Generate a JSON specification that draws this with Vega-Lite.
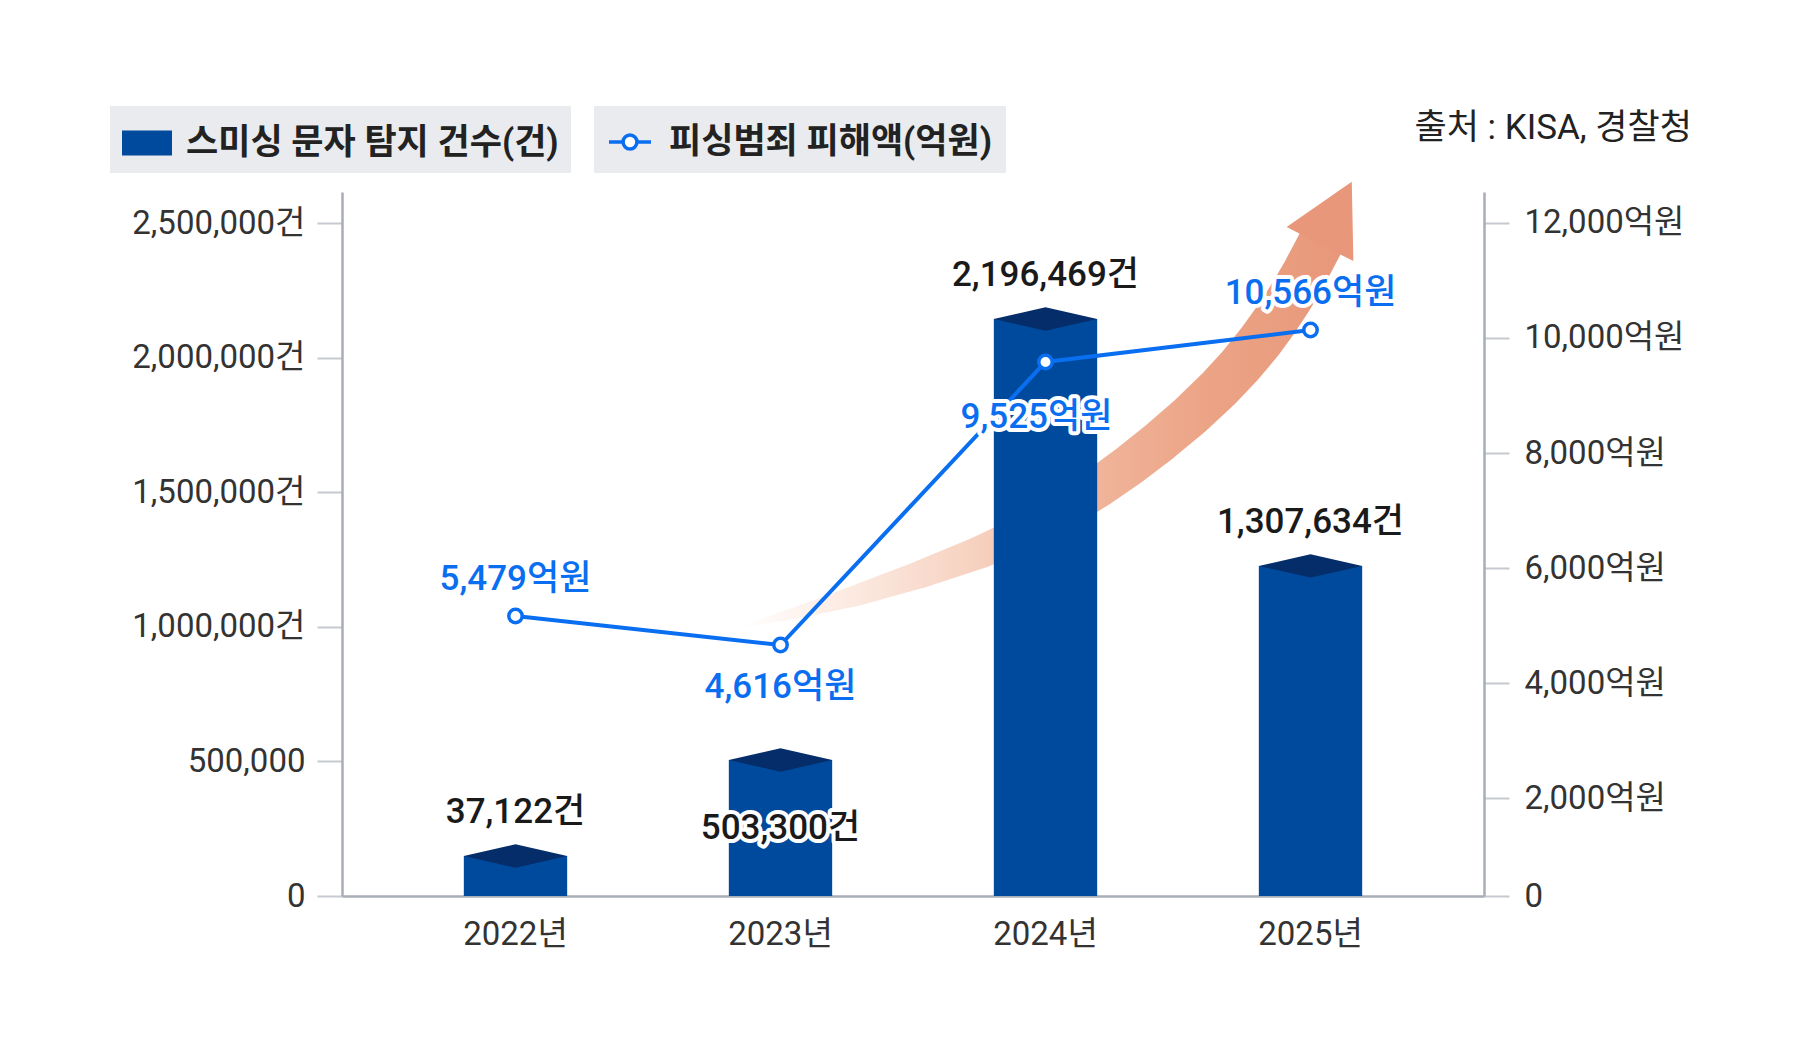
{
  "$schema": "https://vega.github.io/schema/vega-lite/v6.json",
  "width": 1142,
  "height": 704,
  "autosize": "none",
  "padding": {"left": 342, "top": 192, "right": 322, "bottom": 166},
  "background": "#ffffff",
  "title": {
    "text": "출처 : KISA, 경찰청",
    "anchor": "end",
    "frame": "bounds",
    "orient": "top",
    "fontSize": 35,
    "fontWeight": "normal",
    "color": "#222222",
    "offset": 10,
    "dy": 50,
    "dx": 8
  },
  "config": {
    "font": "Roboto, Noto Sans CJK KR",
    "view": {"stroke": null},
    "axis": {
      "grid": false,
      "labelFont": "Roboto, Noto Sans CJK KR",
      "labelFontSize": 33,
      "labelColor": "#333333",
      "domainColor": "#a9aeb6",
      "domainWidth": 2.5,
      "tickColor": "#c6c9ce",
      "tickWidth": 2,
      "tickSize": 25,
      "labelOverlap": false,
      "title": null
    },
    "legend": {
      "labelFont": "Roboto, Noto Sans CJK KR",
      "labelFontSize": 35,
      "labelFontWeight": "bold",
      "labelColor": "#222222",
      "labelLimit": 800,
      "fillColor": "#e9ebee"
    }
  },
  "layer": [
    {
      "data": {
        "values": [
          {"xu": 0.8528, "yv": 999250, "w": 0.04},
          {"xu": 1.0755, "yv": 1056090, "w": 0.27},
          {"xu": 1.3019, "yv": 1120720, "w": 0.47},
          {"xu": 1.5283, "yv": 1194280, "w": 0.6},
          {"xu": 1.7547, "yv": 1276740, "w": 0.71},
          {"xu": 1.8679, "yv": 1325780, "w": 0.75},
          {"xu": 1.9811, "yv": 1382610, "w": 0.8},
          {"xu": 2.0943, "yv": 1448360, "w": 0.84},
          {"xu": 2.2075, "yv": 1521910, "w": 0.88},
          {"xu": 2.3208, "yv": 1602150, "w": 0.91},
          {"xu": 2.434, "yv": 1689070, "w": 0.93},
          {"xu": 2.5472, "yv": 1783800, "w": 0.95},
          {"xu": 2.6604, "yv": 1889670, "w": 0.97},
          {"xu": 2.7358, "yv": 1969160, "w": 0.98},
          {"xu": 2.8113, "yv": 2059800, "w": 1.0},
          {"xu": 2.8679, "yv": 2136320, "w": 1.0},
          {"xu": 2.9245, "yv": 2221020, "w": 1.0},
          {"xu": 2.9811, "yv": 2315740, "w": 1.0},
          {"xu": 3.0377, "yv": 2421610, "w": 1.0}
        ]
      },
      "layer": [
        {
          "mark": {
            "type": "trail",
            "color": {
              "gradient": "linear",
              "x1": 0, "y1": 0, "x2": 1, "y2": 0,
              "stops": [
                {"offset": 0, "color": "#ffffff"},
                {"offset": 0.17, "color": "#fcebe3"},
                {"offset": 0.4, "color": "#f6d0be"},
                {"offset": 0.55, "color": "#f1b89f"},
                {"offset": 0.77, "color": "#eca486"},
                {"offset": 1, "color": "#e8977a"}
              ]
            }
          },
          "encoding": {
            "x": {"field": "xu", "type": "quantitative", "scale": {"domain": [-0.6528, 3.6566], "nice": false, "zero": false}, "axis": null},
            "y": {"field": "yv", "type": "quantitative", "scale": {"domain": [0, 2615156], "nice": false}, "axis": null},
            "size": {"field": "w", "type": "quantitative", "scale": {"domain": [0, 1], "range": [0, 46]}, "legend": null},
            "order": {"field": "xu"}
          }
        },
        {
          "data": {"values": [{"xu": 3.0377, "yv": 2421610}]},
          "mark": {
            "type": "point",
            "shape": "M0,-2L1.07,0L-1.07,0Z",
            "size": 4900,
            "angle": 27,
            "filled": true,
            "fill": "#e8977a",
            "strokeWidth": 0,
            "opacity": 1
          },
          "encoding": {
            "x": {"field": "xu", "type": "quantitative"},
            "y": {"field": "yv", "type": "quantitative"}
          }
        }
      ]
    },
    {
      "data": {
        "values": [
          {"year": "2022년", "count": 148600, "label": "37,122건"},
          {"year": "2023년", "count": 505200, "label": "503,300건"},
          {"year": "2024년", "count": 2143400, "label": "2,196,469건"},
          {"year": "2025년", "count": 1225900, "label": "1,307,634건"}
        ]
      },
      "encoding": {
        "x": {
          "field": "year",
          "type": "nominal",
          "sort": null,
          "scale": {"type": "band", "paddingInner": 0.61, "paddingOuter": 0.4597},
          "axis": {"orient": "bottom", "ticks": false, "labelAngle": 0, "labelPadding": 22}
        },
        "y": {
          "field": "count",
          "type": "quantitative",
          "scale": {"domain": [0, 2615156], "nice": false},
          "axis": {
            "orient": "left",
            "values": [0, 500000, 1000000, 1500000, 2000000, 2500000],
            "labelPadding": 12,
            "labelExpr": "datum.value == 0 ? '0' : (datum.value == 500000 ? '500,000' : format(datum.value, ',') + '건')"
          }
        }
      },
      "layer": [
        {
          "mark": {"type": "bar"},
          "encoding": {
            "fill": {
              "datum": "스미싱 문자 탐지 건수(건)",
              "type": "nominal",
              "scale": {"range": ["#004a9d"]},
              "legend": {
                "title": null,
                "orient": "none",
                "legendX": -232,
                "legendY": -86,
                "symbolType": "M-1,-0.5H1V0.5H-1Z",
                "symbolSize": 2500,
                "symbolStrokeWidth": 0,
                "symbolOpacity": 1,
                "labelOffset": 14,
                "padding": 12
              }
            }
          }
        },
        {
          "mark": {
            "type": "point",
            "shape": "M-1,0L0,-0.225L1,0L0,0.225Z",
            "size": 10692,
            "filled": true,
            "fill": "#052d69",
            "strokeWidth": 0,
            "opacity": 1
          }
        },
        {
          "transform": [{"filter": "datum.year != '2023년'"}],
          "mark": {"type": "text", "dy": -44, "fontSize": 35, "fontWeight": 500, "stroke": "#ffffff", "strokeWidth": 7, "strokeJoin": "round", "fill": "#ffffff"},
          "encoding": {"text": {"field": "label"}}
        },
        {
          "transform": [{"filter": "datum.year != '2023년'"}],
          "mark": {"type": "text", "dy": -44, "fontSize": 35, "fontWeight": 500, "fill": "#1a1a1a"},
          "encoding": {"text": {"field": "label"}}
        },
        {
          "transform": [{"filter": "datum.year == '2023년'"}],
          "mark": {"type": "text", "dy": 68, "fontSize": 35, "fontWeight": 500, "stroke": "#ffffff", "strokeWidth": 8, "strokeJoin": "round", "fill": "#ffffff"},
          "encoding": {"text": {"field": "label"}}
        },
        {
          "transform": [{"filter": "datum.year == '2023년'"}],
          "mark": {"type": "text", "dy": 68, "fontSize": 35, "fontWeight": 500, "fill": "#1a1a1a"},
          "encoding": {"text": {"field": "label"}}
        }
      ]
    },
    {
      "data": {
        "values": [
          {"year": "2022년", "amount": 5165, "label": "5,479억원"},
          {"year": "2023년", "amount": 4661, "label": "4,616억원"},
          {"year": "2024년", "amount": 9583, "label": "9,525억원"},
          {"year": "2025년", "amount": 10139, "label": "10,566억원"}
        ]
      },
      "encoding": {
        "x": {
          "field": "year",
          "type": "nominal",
          "sort": null,
          "scale": {"type": "band", "paddingInner": 0.61, "paddingOuter": 0.4597},
          "axis": null
        },
        "y": {
          "field": "amount",
          "type": "quantitative",
          "scale": {"domain": [296, 12539], "nice": false, "zero": false},
          "axis": {
            "orient": "right",
            "values": [296, 2000, 4000, 6000, 8000, 10000, 12000],
            "labelPadding": 15,
            "labelExpr": "datum.value < 1000 ? '0' : format(datum.value, ',') + '억원'"
          }
        }
      },
      "layer": [
        {
          "mark": {"type": "line", "strokeWidth": 4},
          "encoding": {
            "stroke": {
              "datum": "피싱범죄 피해액(억원)",
              "type": "nominal",
              "scale": {"range": ["#0a6ef0"]},
              "legend": {
                "title": null,
                "orient": "none",
                "legendX": 252,
                "legendY": -86,
                "symbolType": "M-1,0H-0.33M0.33,0H1M-0.33,0A0.33,0.33 0 1 1 0.33,0A0.33,0.33 0 1 1 -0.33,0Z",
                "symbolSize": 1764,
                "symbolStrokeWidth": 3.5,
                "symbolFillColor": "#ffffff",
                "labelOffset": 16,
                "padding": 13,
                "encode": {"symbols": {"update": {"fill": {"value": "#ffffff"}}}}
              }
            }
          }
        },
        {
          "mark": {"type": "point", "filled": true, "fill": "#ffffff", "stroke": "#0a6ef0", "strokeWidth": 3.5, "size": 180, "opacity": 1}
        },
        {
          "transform": [{"filter": "datum.year == '2022년' || datum.year == '2025년'"}],
          "mark": {"type": "text", "dy": -37, "fontSize": 35, "fontWeight": 500, "stroke": "#ffffff", "strokeWidth": 8, "strokeJoin": "round", "fill": "#ffffff"},
          "encoding": {"text": {"field": "label"}}
        },
        {
          "transform": [{"filter": "datum.year == '2022년' || datum.year == '2025년'"}],
          "mark": {"type": "text", "dy": -37, "fontSize": 35, "fontWeight": 500, "fill": "#0a6ef0"},
          "encoding": {"text": {"field": "label"}}
        },
        {
          "transform": [{"filter": "datum.year == '2023년'"}],
          "mark": {"type": "text", "dy": 42, "fontSize": 35, "fontWeight": 500, "stroke": "#ffffff", "strokeWidth": 8, "strokeJoin": "round", "fill": "#ffffff"},
          "encoding": {"text": {"field": "label"}}
        },
        {
          "transform": [{"filter": "datum.year == '2023년'"}],
          "mark": {"type": "text", "dy": 42, "fontSize": 35, "fontWeight": 500, "fill": "#0a6ef0"},
          "encoding": {"text": {"field": "label"}}
        },
        {
          "transform": [{"filter": "datum.year == '2024년'"}],
          "mark": {"type": "text", "dy": 55, "dx": -9, "fontSize": 35, "fontWeight": 500, "stroke": "#ffffff", "strokeWidth": 8, "strokeJoin": "round", "fill": "#ffffff"},
          "encoding": {"text": {"field": "label"}}
        },
        {
          "transform": [{"filter": "datum.year == '2024년'"}],
          "mark": {"type": "text", "dy": 55, "dx": -9, "fontSize": 35, "fontWeight": 500, "fill": "#0a6ef0"},
          "encoding": {"text": {"field": "label"}}
        }
      ]
    }
  ],
  "resolve": {"scale": {"x": "independent", "y": "independent", "size": "independent"}}
}
